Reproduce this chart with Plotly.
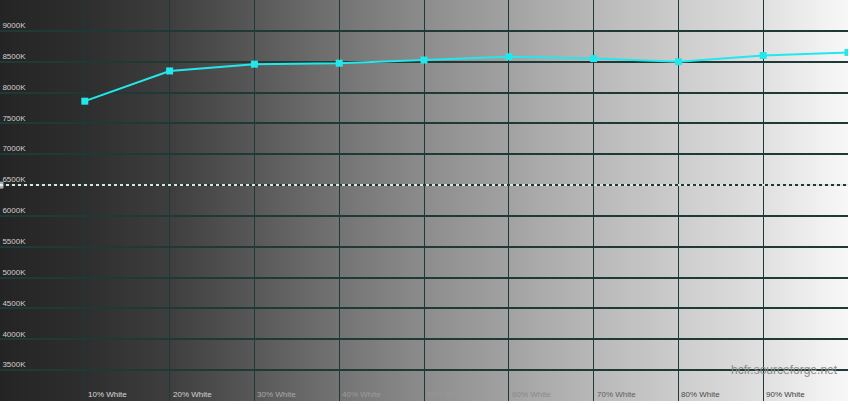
import numpy as np
import plotly.graph_objects as go

# ---- data ----
categories = ["10% White", "20% White", "30% White", "40% White", "50% White",
              "60% White", "70% White", "80% White", "90% White", "100% White"]
levels = [10, 20, 30, 40, 50, 60, 70, 80, 90, 100]
color_temp = [7860, 8350, 8460, 8475, 8527, 8580, 8550, 8500, 8600, 8650]
target_temp = 6500
ytick_vals = [3500, 4000, 4500, 5000, 5500, 6000, 6500, 7000, 7500, 8000, 8500, 9000]
ytick_text = [f"{v}K" for v in ytick_vals]
watermark = "hcfr.sourceforge.net"

# ---- style ----
label_colors = ["#dadada", "#d2d2d2", "#aaaaaa", "#9c9c9c", "#989898",
                "#8a8a8a", "#606060", "#4c4c4c", "#404040"]
grid_color = "#1f3a36"
bg_anchor_x = [0, 10, 20, 30, 40, 50, 60, 70, 80, 90, 100]
bg_anchor_v = [36, 46, 62, 88, 115, 140, 162, 184, 204, 224, 248]

fig = go.Figure()

# background gradient (decoration) as narrow rects below gridlines
n_strips = 212
edges = np.linspace(0, 100, n_strips + 1)
shapes = []
for i in range(n_strips):
    xm = (edges[i] + edges[i + 1]) / 2
    g = int(round(np.interp(xm, bg_anchor_x, bg_anchor_v)))
    shapes.append(dict(type="rect", xref="x", yref="paper",
                       x0=edges[i], x1=edges[i + 1] + 0.3, y0=0, y1=1,
                       fillcolor=f"rgb({g},{g},{g+1})", line=dict(width=0),
                       layer="below"))

# reference 6500K line
fig.add_trace(go.Scatter(
    x=[0, 100], y=[target_temp, target_temp], mode="lines+markers",
    line=dict(color="#e2e2e2", width=2, dash="dot"),
    marker=dict(symbol="square", size=[6, 0], color="#f0f0f0"),
    hoverinfo="skip", showlegend=False))

# measured colour temperature
fig.add_trace(go.Scatter(
    x=levels, y=color_temp, mode="lines+markers",
    line=dict(color="#22e8ec", width=2),
    marker=dict(symbol="square", size=7, color="#22e8ec"),
    showlegend=False))

annotations = []
for lv, txt, col in zip(levels[:-1], categories[:-1], label_colors):
    annotations.append(dict(x=lv, y=0, xref="x", yref="paper", text=txt,
                            showarrow=False, xanchor="left", yanchor="bottom",
                            xshift=1, yshift=0,
                            font=dict(family="Liberation Sans", size=8, color=col)))
annotations.append(dict(x=99, y=3500, xref="x", yref="y", text=watermark,
                        showarrow=False, xanchor="right", yanchor="middle",
                        font=dict(family="Liberation Sans", size=12, color="#8a8a8a")))

fig.update_layout(
    width=850, height=404,
    margin=dict(l=0, r=2, t=0, b=3),
    paper_bgcolor="white", plot_bgcolor="#2a2a2a",
    shapes=shapes, annotations=annotations,
    xaxis=dict(range=[0, 100], tickvals=levels, showticklabels=False,
               showgrid=True, gridcolor=grid_color, gridwidth=1.3,
               zeroline=False, showline=False, ticks=""),
    yaxis=dict(range=[3000, 9500], tickvals=ytick_vals, ticktext=ytick_text,
               ticklabelposition="inside top", ticks="",
               tickfont=dict(family="Liberation Sans", size=8, color="#d0d0d0"),
               showgrid=True, gridcolor=grid_color, gridwidth=2,
               zeroline=False, showline=True, linecolor="#2c6670", linewidth=2),
)

fig.write_html("out.html", config={"displayModeBar": False},
               post_script="document.body.style.margin='0';document.body.style.overflow='hidden';")
